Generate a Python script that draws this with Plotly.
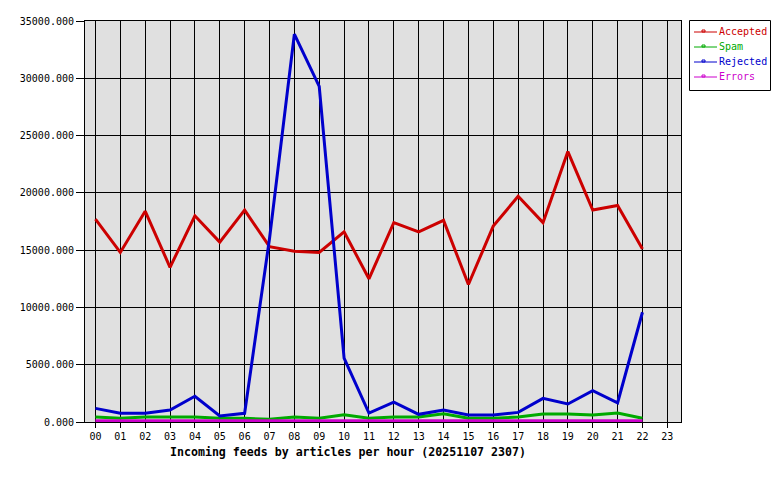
import plotly.graph_objects as go

hours = [f"{h:02d}" for h in range(24)]
data_hours = hours[:23]

accepted = [17700, 14800, 18400, 13500, 18000, 15700, 18500, 15300, 14900, 14800,
            16600, 12500, 17400, 16600, 17600, 12000, 17100, 19700, 17400, 23600,
            18500, 18900, 15100]
spam = [430, 320, 430, 430, 430, 320, 320, 240, 430, 320,
        640, 320, 430, 430, 720, 320, 320, 430, 700, 700,
        610, 780, 320]
rejected = [1190, 760, 760, 1040, 2250, 520, 760, 16000, 33850, 29300,
            5570, 780, 1740, 670, 1040, 610, 610, 840, 2060, 1570,
            2730, 1680, 9580]
errors = [110] * 23

series_names = ["Accepted", "Spam", "Rejected", "Errors"]
series_values = [accepted, spam, rejected, errors]
series_colors = ["#cc0000", "#00aa00", "#0000cc", "#cc00cc"]

y_ticks = [0, 5000, 10000, 15000, 20000, 25000, 30000, 35000]
title_text = "Incoming feeds by articles per hour (20251107 2307)"

FONT = "DejaVu Sans Mono"

fig = go.Figure()
for name, vals, color in zip(series_names, series_values, series_colors):
    fig.add_trace(go.Scatter(
        x=data_hours, y=vals, mode="lines", name=name,
        line=dict(color=color, width=3), showlegend=False,
        hoverinfo="x+y",
    ))

# reference pixel frame of the plot area
PL, PR, PT, PB = 85, 681, 21, 422


def px(X):
    return (X - PL) / (PR - PL)


def py(Y):
    return (PB - Y) / (PB - PT)


# hand-built legend box (matches the compact GD-style legend)
shapes = [dict(type="rect", xref="paper", yref="paper",
               x0=px(689.5), x1=px(770.5), y0=py(90.5), y1=py(20.5),
               line=dict(color="black", width=1), fillcolor="white", layer="above")]
annotations = []
for i, (name, color) in enumerate(zip(series_names, series_colors)):
    ly = 32 + 15 * i
    shapes.append(dict(type="line", xref="paper", yref="paper",
                       x0=px(694), x1=px(717), y0=py(ly), y1=py(ly),
                       line=dict(color=color, width=1), layer="above"))
    shapes.append(dict(type="rect", xref="paper", yref="paper",
                       x0=px(702), x1=px(705), y0=py(ly), y1=py(ly - 2),
                       line=dict(color=color, width=1), fillcolor="rgba(0,0,0,0)", layer="above"))
    annotations.append(dict(text=name, xref="paper", yref="paper",
                            x=px(717), y=py(ly), xanchor="left", yanchor="middle",
                            showarrow=False, font=dict(family=FONT, size=10, color=color)))

annotations.append(dict(
    text=f"<b>{title_text}</b>", xref="paper", yref="paper",
    x=px(348), y=py(452),
    xanchor="center", yanchor="middle", showarrow=False,
    font=dict(family=FONT, size=11.6, color="black"),
))

# page body has an 8px margin; compensate so the plot lands where the reference has it
OFF = 8
W, H = 780 - OFF, 480 - OFF
left, right, top, bottom = PL - OFF, PR - OFF, PT - OFF, PB - OFF
fig.update_layout(
    width=W, height=H,
    margin=dict(l=left, r=W - right, t=top, b=H - bottom, pad=0, autoexpand=False),
    paper_bgcolor="white",
    plot_bgcolor="#e0e0e0",
    font=dict(family=FONT, size=10, color="black"),
    showlegend=False,
    shapes=shapes,
    annotations=annotations,
)
fig.update_xaxes(
    type="category", categoryorder="array", categoryarray=hours,
    tickvals=hours, ticktext=hours,
    range=[-0.42, 23.55],
    showgrid=True, gridcolor="black", gridwidth=1,
    showline=True, linecolor="black", linewidth=1, mirror=True,
    ticks="outside", ticklen=5, tickcolor="black",
    tickfont=dict(family=FONT, size=10),
    zeroline=False,
)
fig.update_yaxes(
    range=[0, 35000], tickvals=y_ticks, tickformat=".3f",
    showgrid=True, gridcolor="black", gridwidth=1,
    showline=True, linecolor="black", linewidth=1, mirror=True,
    ticks="outside", ticklen=8, tickcolor="black",
    tickfont=dict(family=FONT, size=10),
    zeroline=False,
)

fig.write_html("out.html")
